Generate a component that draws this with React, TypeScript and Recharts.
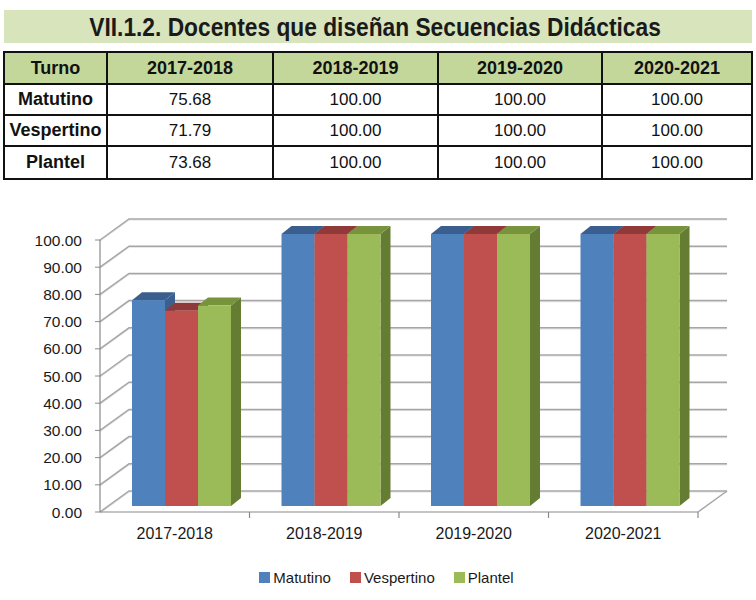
import React from "react";
import { BarChart, Bar, XAxis, YAxis, CartesianGrid, Legend } from "recharts";

const title = "VII.1.2. Docentes que diseñan Secuencias Didácticas";
const categories = ["2017-2018", "2018-2019", "2019-2020", "2020-2021"];
const turnos = ["Matutino", "Vespertino", "Plantel"];
const matutino = [75.68, 100.0, 100.0, 100.0];
const vespertino = [71.79, 100.0, 100.0, 100.0];
const plantel = [73.68, 100.0, 100.0, 100.0];
const yTicks = [0, 10, 20, 30, 40, 50, 60, 70, 80, 90, 100];

const COLORS = {
    matutino: { front: "#4f81bd", top: "#3a5f8f", side: "#3b6090" },
    vespertino: { front: "#c0504d", top: "#8f3a38", side: "#933c3a" },
    plantel: { front: "#9bbb59", top: "#77933c", side: "#657d33" },
};

// wall depth and bar offset for the fake 3D look
const WALL = { dx: 29, dy: -21 };
const BAR_SHIFT = { dx: 7, dy: -6 };
const BAR_DEPTH = { dx: 10, dy: -8 };

const chartData = categories.map((label, i) => ({
    label,
    Matutino: matutino[i],
    Vespertino: vespertino[i],
    Plantel: plantel[i],
}));

const tableRows = [matutino, vespertino, plantel];

const sans = '"Liberation Sans", Arial, sans-serif';

function Bar3D(props: any) {
    const { x, y, width, height, colors } = props;
    if (width == null || height == null || height <= 0) return null;
    const x0 = x + BAR_SHIFT.dx;
    const y0 = y + BAR_SHIFT.dy;
    const { dx, dy } = BAR_DEPTH;
    return (
        <g>
            <path
                d={`M${x0 + width},${y0} L${x0 + width + dx},${y0 + dy} L${x0 + width + dx},${y0 + height + dy} L${x0 + width},${y0 + height} Z`}
                fill={colors.side}
            />
            <path
                d={`M${x0},${y0} L${x0 + dx},${y0 + dy} L${x0 + width + dx},${y0 + dy} L${x0 + width},${y0} Z`}
                fill={colors.top}
            />
            <rect x={x0} y={y0} width={width} height={height} fill={colors.front} />
        </g>
    );
}

function GridLine3D(props: any) {
    const { x1, y1, x2, index } = props;
    const bx = x1 + WALL.dx;
    const by = y1 + WALL.dy;
    return (
        <g key={`g-${index}`}>
            <path
                d={`M${x1},${y1 + 1} L${bx},${by + 1} L${x2 + WALL.dx},${by + 1}`}
                fill="none"
                stroke="#e2e2e2"
                strokeWidth={1.2}
            />
            <path
                d={`M${x1},${y1} L${bx},${by} L${x2 + WALL.dx},${by}`}
                fill="none"
                stroke="#a6a6a6"
                strokeWidth={1.5}
            />
            {index === 0 && (
                <path
                    d={`M${x2},${y1} L${x2 + WALL.dx},${by}`}
                    fill="none"
                    stroke="#a6a6a6"
                    strokeWidth={1.5}
                />
            )}
        </g>
    );
}

function XTick(props: any) {
    const { x, y, payload } = props;
    const half = payload?.offset ?? 0;
    return (
        <g>
            <line x1={x + half} y1={y - 8} x2={x + half} y2={y - 2} stroke="#8a8a8a" strokeWidth={1.2} />
            <text x={x} y={y + 8} textAnchor="middle" fill="#1a1a1a" fontSize={16} fontFamily={sans} dy="0.71em">
                {payload.value}
            </text>
        </g>
    );
}

function LegendBox() {
    const items = [
        { name: turnos[0], color: COLORS.matutino.front },
        { name: turnos[1], color: COLORS.vespertino.front },
        { name: turnos[2], color: COLORS.plantel.front },
    ];
    return (
        <div
            style={{
                height: 20,
                display: "flex",
                justifyContent: "center",
                alignItems: "center",
                paddingLeft: 36,
                fontFamily: sans,
                fontSize: 15,
                color: "#1a1a1a",
            }}
        >
            {items.map((it) => (
                <div key={it.name} style={{ display: "flex", alignItems: "center", marginRight: 19 }}>
                    <span style={{ width: 11, height: 11, background: it.color, marginRight: 3, display: "inline-block" }} />
                    <span>{it.name}</span>
                </div>
            ))}
        </div>
    );
}

export default function App() {
    const colEdges = [4, 107, 273, 438, 602, 752];
    const colWidths = colEdges.slice(1).map((e, i) => e - colEdges[i]);
    const rowHeights = [32, 31, 31, 33];
    const border = "2px solid #111";
    const boldCell = { border, textAlign: "center" as const, fontWeight: "bold", fontFamily: sans, fontSize: 18, padding: 0 };

    return (
        <div style={{ position: "absolute", left: 0, top: 0, width: 756, height: 600, background: "#fff" }}>
            <div
                style={{
                    position: "absolute",
                    left: 4,
                    top: 10,
                    width: 748,
                    height: 33,
                    background: "#d8e4bc",
                    display: "flex",
                    alignItems: "center",
                    justifyContent: "center",
                    overflow: "hidden",
                }}
            >
                <span
                    style={{
                        display: "inline-block",
                        whiteSpace: "nowrap",
                        fontFamily: sans,
                        fontWeight: "bold",
                        fontSize: 25,
                        color: "#1a1a1a",
                        transform: "scaleX(0.91)",
                        marginTop: 1,
                        marginRight: 6,
                    }}
                >
                    {title}
                </span>
            </div>

            <table
                style={{
                    position: "absolute",
                    left: 3,
                    top: 51,
                    borderCollapse: "collapse",
                    tableLayout: "fixed",
                    width: 750,
                    fontSize: 17,
                    color: "#111",
                }}
            >
                <colgroup>
                    {colWidths.map((w, i) => (
                        <col key={i} style={{ width: w }} />
                    ))}
                </colgroup>
                <tbody>
                    <tr style={{ height: rowHeights[0], background: "#c4d79b" }}>
                        {["Turno", ...categories].map((h) => (
                            <td key={h} style={boldCell}>
                                {h}
                            </td>
                        ))}
                    </tr>
                    {tableRows.map((row, r) => (
                        <tr key={turnos[r]} style={{ height: rowHeights[r + 1] }}>
                            <td style={boldCell}>{turnos[r]}</td>
                            {row.map((v, c) => (
                                <td key={c} style={{ border, textAlign: "center", fontFamily: sans, padding: 0 }}>
                                    {v.toFixed(2)}
                                </td>
                            ))}
                        </tr>
                    ))}
                </tbody>
            </table>

            <div style={{ position: "absolute", left: 0, top: 190 }}>
                <BarChart
                    width={756}
                    height={410}
                    data={chartData}
                    margin={{ top: 50, right: 58, bottom: 13, left: 40 }}
                    barGap={0}
                    barSize={33}
                >
                    <CartesianGrid vertical={false} horizontal={(p: any) => <GridLine3D {...p} />} />
                    <XAxis
                        dataKey="label"
                        height={55}
                        axisLine={{ stroke: "#8a8a8a", strokeWidth: 1.2 }}
                        tickLine={false}
                        tick={<XTick />}
                        interval={0}
                    />
                    <YAxis
                        width={60}
                        domain={[0, 100]}
                        ticks={yTicks}
                        interval={0}
                        tickFormatter={(v: number) => v.toFixed(2)}
                        axisLine={{ stroke: "#8a8a8a", strokeWidth: 1.2 }}
                        tickLine={{ stroke: "#8a8a8a" }}
                        tickSize={5}
                        tickMargin={13}
                        tick={{ fill: "#1a1a1a", fontSize: 15.5, fontFamily: sans }}
                    />
                    <Legend
                        verticalAlign="bottom"
                        wrapperStyle={{ left: 0, width: 756 }}
                        content={() => <LegendBox />}
                    />
                    <Bar
                        dataKey="Matutino"
                        isAnimationActive={false}
                        shape={(p: any) => <Bar3D {...p} colors={COLORS.matutino} />}
                    />
                    <Bar
                        dataKey="Vespertino"
                        isAnimationActive={false}
                        shape={(p: any) => <Bar3D {...p} colors={COLORS.vespertino} />}
                    />
                    <Bar
                        dataKey="Plantel"
                        isAnimationActive={false}
                        shape={(p: any) => <Bar3D {...p} colors={COLORS.plantel} />}
                    />
                </BarChart>
            </div>
        </div>
    );
}
